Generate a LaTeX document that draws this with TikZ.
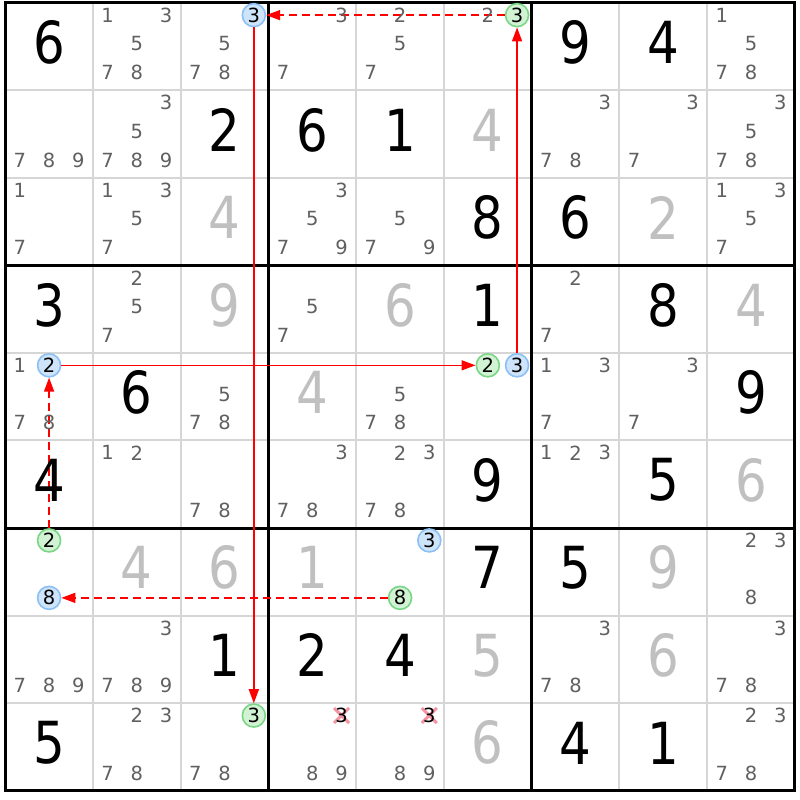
\documentclass[tikz,border=0pt]{standalone}
\usepackage{fontspec}
\setmainfont{DejaVu Sans}
\newfontfamily\bigf[FakeStretch=0.86]{DejaVu Sans}
\newfontfamily\smallf{DejaVu Sans}
\usetikzlibrary{arrows.meta}
\definecolor{candgray}{RGB}{96,96,96}
\definecolor{solvedgray}{RGB}{192,192,192}
\definecolor{gridgray}{RGB}{214,214,214}
\definecolor{blueF}{RGB}{206,228,251}
\definecolor{blueB}{RGB}{140,192,244}
\definecolor{greenF}{RGB}{210,242,212}
\definecolor{greenB}{RGB}{122,214,134}
\definecolor{crossPink}{RGB}{242,148,162}
\definecolor{linkred}{RGB}{255,0,0}
\def\xo{5.2}
\def\yo{2.7}
\def\cw{87.75}
\def\ch{87.55}
\tikzset{
  given/.style={font=\bigf\fontsize{58}{58}\selectfont, text=black, inner sep=0pt},
  solved/.style={given, text=solvedgray},
  candfont/.style={font=\smallf\fontsize{19.5}{19.5}\selectfont, inner sep=0pt},
  cand/.style={candfont, text=candgray},
  hlblue/.style={candfont, circle, draw=blueB, fill=blueF, line width=1.6pt, minimum size=23pt},
  hlgreen/.style={candfont, circle, draw=greenB, fill=greenF, line width=1.6pt, minimum size=23pt},
  crossed/.style={cand, text=black},
  thingrid/.style={draw=gridgray, line width=2pt},
  thickgrid/.style={draw=black, line width=3pt},
  link/.style={color=linkred, draw=linkred, line width=1.5pt, -{Triangle[length=14pt,width=10pt,color=linkred]}},
  dlink/.style={link, dash pattern=on 8pt off 5pt}
}
\newcommand\candpos[3]{%
  \pgfmathsetmacro\px{\xo+(#2-1)*\cw+\cw*(1/6+mod(#3-1,3)/3)}%
  \pgfmathsetmacro\py{\yo+(#1-1)*\ch+\ch*(0.142+0.328*floor((#3-1)/3))}}
\newcommand\cands[3]{\foreach \d in {#3}{%
  \candpos{#1}{#2}{\d}%
  \node[cand] (k#1#2\d) at (\px,\py) {\d};}}
\newcommand\hlcand[4]{\candpos{#1}{#2}{#3}%
  \node[#4] (k#1#2#3) at (\px,\py) {#3};}
\newcommand\xcand[3]{\candpos{#1}{#2}{#3}%
  \draw[crossPink, line width=3pt] (\px-7.5,\py-7.5) -- (\px+7.5,\py+7.5) (\px-7.5,\py+7.5) -- (\px+7.5,\py-7.5);
  \node[crossed] (k#1#2#3) at (\px,\py) {#3};}
\begin{document}
\begin{tikzpicture}[x=1pt,y=-1pt]
\useasboundingbox (0,0) rectangle (800,800);
\fill[white] (0,0) rectangle (800,800);
% thin grid
\foreach \i in {1,2,4,5,7,8}{
  \draw[thingrid] ({\xo+\i*\cw},{\yo}) -- ({\xo+\i*\cw},{\yo+9*\ch});
  \draw[thingrid] ({\xo},{\yo+\i*\ch}) -- ({\xo+9*\cw},{\yo+\i*\ch});
}
% thick grid
\foreach \i in {3,6}{
  \draw[thickgrid] ({\xo+\i*\cw},{\yo}) -- ({\xo+\i*\cw},{\yo+9*\ch});
  \draw[thickgrid] ({\xo},{\yo+\i*\ch}) -- ({\xo+9*\cw},{\yo+\i*\ch});
}
\draw[thickgrid] ({\xo},{\yo}) rectangle ({\xo+9*\cw},{\yo+9*\ch});
% highlighted candidates
\hlcand{1}{3}{3}{hlblue}
\hlcand{1}{6}{3}{hlgreen}
\hlcand{5}{1}{2}{hlblue}
\hlcand{5}{6}{2}{hlgreen}
\hlcand{5}{6}{3}{hlblue}
\hlcand{7}{1}{2}{hlgreen}
\hlcand{7}{1}{8}{hlblue}
\hlcand{7}{5}{3}{hlblue}
\hlcand{7}{5}{8}{hlgreen}
\hlcand{9}{3}{3}{hlgreen}
% links
\begin{scope}[color=linkred]
\draw[link] (k133) -- (k933);
\draw[dlink] (k163) -- (k133);
\draw[link] (k512) -- (k562);
\draw[link] (k563) -- (k163);
\draw[dlink] (k712) -- (k512);
\draw[dlink] (k758) -- (k718);
\end{scope}
% given digits
\foreach \r/\c/\v in {1/1/6,1/7/9,1/8/4,2/3/2,2/4/6,2/5/1,3/6/8,3/7/6,4/1/3,4/6/1,4/8/8,
  5/2/6,5/9/9,6/1/4,6/6/9,6/8/5,7/6/7,7/7/5,8/3/1,8/4/2,8/5/4,9/1/5,9/7/4,9/8/1}{
  \node[given] (g\r\c) at ({\xo+(\c-0.5)*\cw},{\yo+(\r-0.5)*\ch-4}) {\v};
}
% solved digits
\foreach \r/\c/\v in {2/6/4,3/3/4,3/8/2,4/3/9,4/5/6,4/9/4,5/4/4,6/9/6,7/2/4,7/3/6,7/4/1,
  7/8/9,8/6/5,8/8/6,9/6/6}{
  \node[solved] (s\r\c) at ({\xo+(\c-0.5)*\cw},{\yo+(\r-0.5)*\ch-4}) {\v};
}
% candidates
\cands{1}{2}{1,3,5,7,8}
\cands{1}{3}{5,7,8}
\cands{1}{4}{3,7}
\cands{1}{5}{2,5,7}
\cands{1}{6}{2}
\cands{1}{9}{1,5,7,8}
\cands{2}{1}{7,8,9}
\cands{2}{2}{3,5,7,8,9}
\cands{2}{7}{3,7,8}
\cands{2}{8}{3,7}
\cands{2}{9}{3,5,7,8}
\cands{3}{1}{1,7}
\cands{3}{2}{1,3,5,7}
\cands{3}{4}{3,5,7,9}
\cands{3}{5}{5,7,9}
\cands{3}{9}{1,3,5,7}
\cands{4}{2}{2,5,7}
\cands{4}{4}{5,7}
\cands{4}{7}{2,7}
\cands{5}{1}{1,7,8}
\cands{5}{3}{5,7,8}
\cands{5}{5}{5,7,8}
\cands{5}{7}{1,3,7}
\cands{5}{8}{3,7}
\cands{6}{2}{1,2}
\cands{6}{3}{7,8}
\cands{6}{4}{3,7,8}
\cands{6}{5}{2,3,7,8}
\cands{6}{7}{1,2,3}
\cands{7}{9}{2,3,8}
\cands{8}{1}{7,8,9}
\cands{8}{2}{3,7,8,9}
\cands{8}{7}{3,7,8}
\cands{8}{9}{3,7,8}
\cands{9}{2}{2,3,7,8}
\cands{9}{3}{7,8}
\cands{9}{4}{8,9}
\cands{9}{5}{8,9}
\cands{9}{9}{2,3,7,8}
% crossed candidates
\xcand{9}{4}{3}
\xcand{9}{5}{3}
\end{tikzpicture}
\end{document}
